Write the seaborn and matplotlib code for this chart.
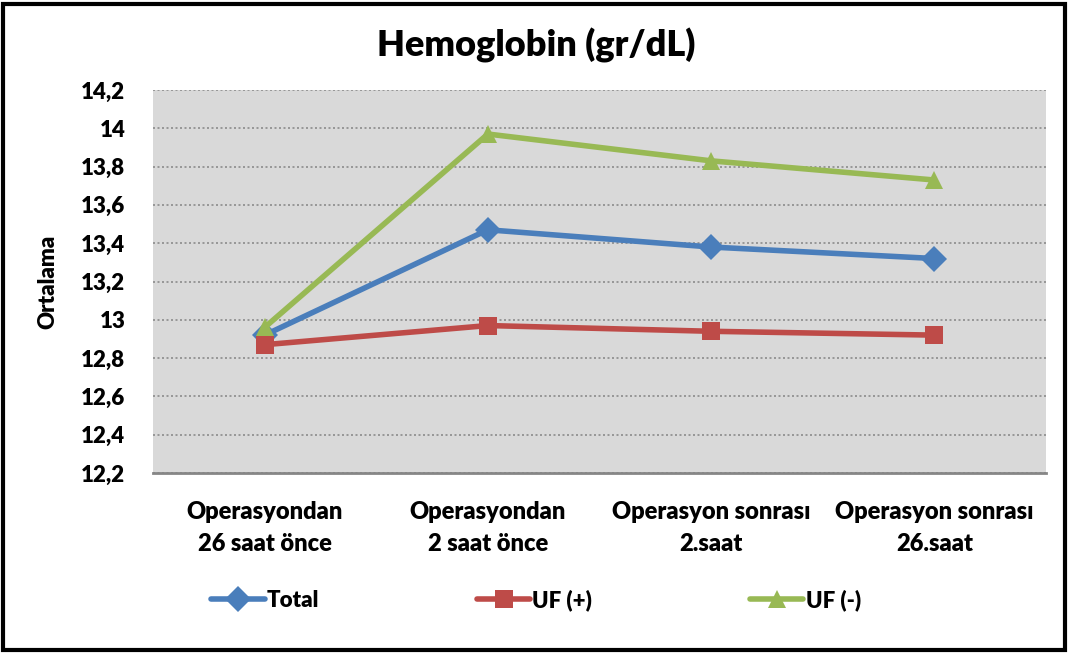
import matplotlib
matplotlib.use("Agg")
import matplotlib.pyplot as plt
import seaborn as sns
import pandas as pd
from matplotlib.patches import Rectangle
from matplotlib.ticker import FuncFormatter

categories = ["Operasyondan\n26 saat önce", "Operasyondan\n2 saat önce",
              "Operasyon sonrası\n2.saat", "Operasyon sonrası\n26.saat"]
series_names = ["Total", "UF (+)", "UF (-)"]
total = [12.92, 13.47, 13.38, 13.32]
uf_pos = [12.87, 12.97, 12.94, 12.92]
uf_neg = [12.96, 13.97, 13.83, 13.73]
yticks = [12.2, 12.4, 12.6, 12.8, 13.0, 13.2, 13.4, 13.6, 13.8, 14.0, 14.2]

rows = []
for name, vals in zip(series_names, [total, uf_pos, uf_neg]):
    for i, v in enumerate(vals):
        rows.append({"pos": i, "value": v, "series": name})
df = pd.DataFrame(rows)

sns.set_theme(style="white")
plt.rcParams["font.family"] = ["Lato", "DejaVu Sans"]
plt.rcParams["text.color"] = "black"
plt.rcParams["xtick.color"] = "black"
plt.rcParams["ytick.color"] = "black"
plt.rcParams["axes.labelcolor"] = "black"
W = "heavy"

fig = plt.figure(figsize=(10.72, 6.57), dpi=100)
ax = fig.add_axes([153/1072, 1-473/657, (1046-153)/1072, (473-90)/657])
ax.set_facecolor("#D9D9D9")

palette = {"Total": "#4A7EBB", "UF (+)": "#BE4B48", "UF (-)": "#98B954"}
sns.lineplot(data=df, x="pos", y="value", hue="series", style="series",
             markers={"Total": "D", "UF (+)": "s", "UF (-)": "^"},
             dashes=False, palette=palette, linewidth=4, markersize=13,
             markeredgewidth=0, ax=ax, legend=True)

ax.set_xlim(-0.5, 3.5)
ax.set_ylim(12.2, 14.2)
ax.set_yticks(yticks)
ax.yaxis.set_major_formatter(FuncFormatter(lambda v, p: (f"{v:.1f}".rstrip("0").rstrip(".")).replace(".", ",")))
ax.set_xticks(range(len(categories)))
ax.set_xticklabels(categories, fontsize=17, fontweight=W, linespacing=1.55)
ax.tick_params(axis="y", labelsize=16, length=0, pad=20, labelcolor="black")
ax.tick_params(axis="x", length=0, pad=20, labelcolor="black")
for lab in ax.get_yticklabels():
    lab.set_fontweight(W)
ax.grid(axis="y", color="#8C8C8C", linestyle=(0, (1.2, 1.5)), linewidth=1.2)
ax.set_axisbelow(True)
for s in ["top", "right", "left"]:
    ax.spines[s].set_visible(False)
ax.spines["bottom"].set_color("#868686")
ax.spines["bottom"].set_linewidth(2)
ax.set_xlabel("")
ax.set_ylabel("Ortalama", fontsize=16, fontweight=W, labelpad=16, color="black")

handles, labels = ax.get_legend_handles_labels()
ax.get_legend().remove()
leg = fig.legend(handles, labels, loc="center", bbox_to_anchor=(0.5, 1-600/657),
                 ncol=3, frameon=False, handlelength=2.4,
                 handletextpad=0.1, columnspacing=7.1, prop={"weight": W, "size": 16})
for t in leg.get_texts():
    t.set_color("black")

fig.text(0.5, 1-45/657, "Hemoglobin (gr/dL)", ha="center", va="center",
         fontsize=26, fontweight=W, color="black")

fig.patches.append(Rectangle((3/1072, 7/657), 1062/1072, 646/657, transform=fig.transFigure,
                             fill=False, edgecolor="black", linewidth=3))

fig.savefig("out.png", dpi=100)
